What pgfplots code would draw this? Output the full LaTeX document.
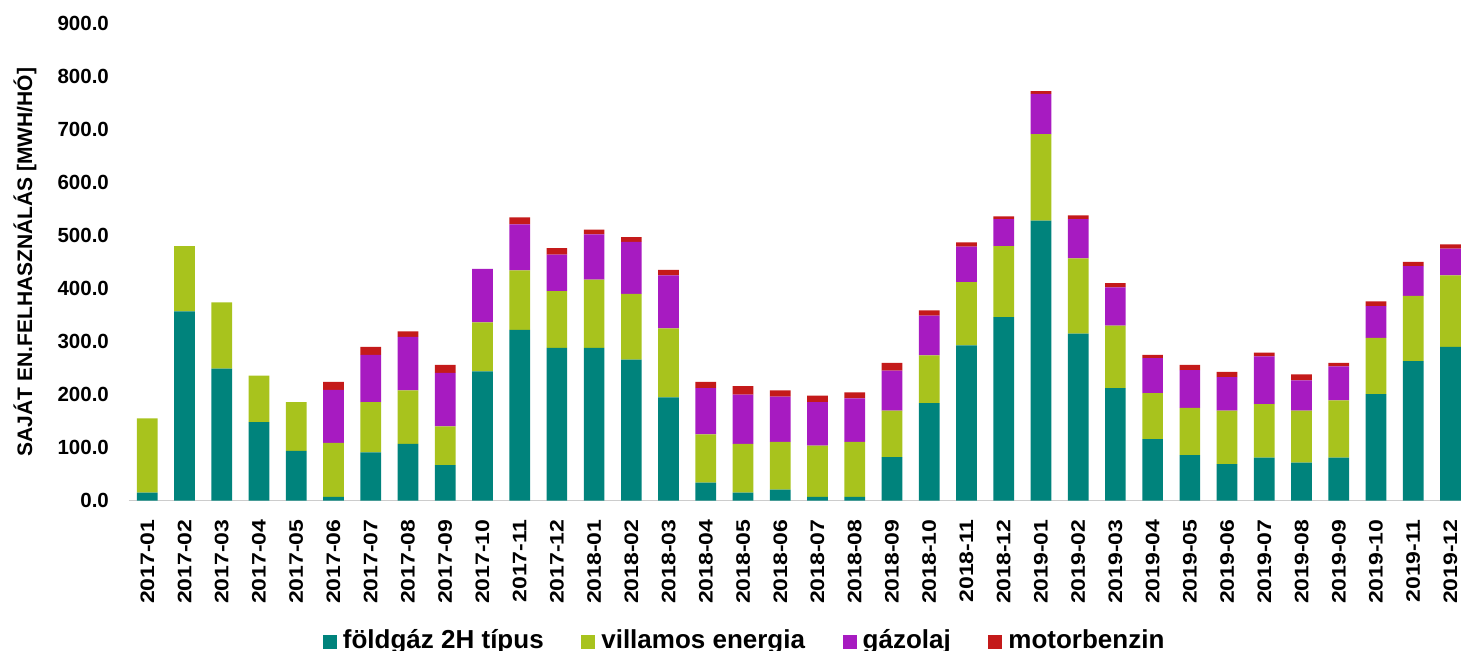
\documentclass[border=0pt]{standalone}
\usepackage{fontspec}
\setmainfont{Liberation Sans}
\newfontfamily\xtfont[FakeStretch=1.18]{Liberation Sans}
\usepackage{pgfplots}
\usepackage{pgfplotstable}
\pgfplotsset{compat=1.18}
\definecolor{cteal}{HTML}{00837C}
\definecolor{cgreen}{HTML}{A8C31D}
\definecolor{cpurple}{HTML}{A71BC1}
\definecolor{cred}{HTML}{C41A1A}
\pgfplotstableread{
x teal green purple red
0 15 140 0 0
1 357 123 0 0
2 249 125 0 0
3 148 88 0 0
4 94 92 0 0
5 7 102 100 15
6 91 95 89 15
7 107 101 101 10
8 67 73 101 15
9 244 92 101 0
10 322 112 87 13
11 288 107 69 12
12 288 129 85 9
13 266 124 98 9
14 195 130 100 10
15 34 91 87 12
16 15 92 93 16
17 21 90 85 12
18 7 97 82 12
19 7 104 82 11
20 82 88 75 15
21 184 90 75 10
22 293 119 67 8
23 346 134 51 5
24 528 163 76 5
25 315 142 74 7
26 212 118 72 8
27 116 87 66 6
28 86 89 71 10
29 69 101 63 10
30 81 101 90 7
31 72 98 57 11
32 81 108 64 7
33 201 106 60 9
34 263 123 56 8
35 290 135 50 8
}\datatable
\tikzset{myleg/.style={/pgfplots/legend image code/.code={\path[##1,draw=none] (0pt,-0.5pt) rectangle (7pt,6.5pt);}}}
\begin{document}
\begin{tikzpicture}
\begin{axis}[
  at={(64.35pt,75.15pt)}, anchor=south west,
  scale only axis,
  width=670.2pt, height=238.7pt,
  ybar stacked, bar width=10.35pt,
  xmin=-0.5, xmax=35.5, ymin=0, ymax=900,
  axis lines*=left,
  x axis line style={draw=black!20, line width=0.8pt},
  y axis line style={draw=none},
  xtick={0,...,35},
  xticklabels={2017-01,2017-02,2017-03,2017-04,2017-05,2017-06,2017-07,2017-08,2017-09,2017-10,2017-11,2017-12,2018-01,2018-02,2018-03,2018-04,2018-05,2018-06,2018-07,2018-08,2018-09,2018-10,2018-11,2018-12,2019-01,2019-02,2019-03,2019-04,2019-05,2019-06,2019-07,2019-08,2019-09,2019-10,2019-11,2019-12},
  x tick style={draw=none},
  extra x ticks={-0.5,0.5,...,35.5},
  extra x tick labels={},
  extra x tick style={tick align=outside, major tick length=3pt, tick style={draw=black!20, line width=0.8pt}},
  xticklabel style={rotate=90, anchor=east, inner sep=0pt, font=\xtfont\bfseries\fontsize{9.75}{11}\selectfont},
  xticklabel shift=9.15pt,
  ytick={0,100,...,900},
  y tick style={draw=none},
  yticklabel style={anchor=east, inner sep=0pt, xshift=-9.7pt, font=\bfseries\fontsize{10.25}{12}\selectfont,
    /pgf/number format/.cd, fixed, fixed zerofill, precision=1, assume math mode=true},
  scaled y ticks=false,
  ylabel={SAJÁT EN.FELHASZNÁLÁS [MWH/HÓ]},
  ylabel style={at={(axis description cs:-0.07737,0.5)}, anchor=center, font=\bfseries\fontsize{10.5}{12}\selectfont},
  legend columns=4,
  legend style={at={(axis description cs:0.4588,-0.2918)}, anchor=center, draw=none, fill=none, inner sep=0pt,
    font=\bfseries\fontsize{13}{15}\selectfont,
    nodes={inner sep=0pt, anchor=base west},
    /tikz/every odd column/.style={column sep=3pt},
    /tikz/every even column/.style={column sep=18.8pt}},
]
\addplot[fill=cteal, draw=none, myleg] table[x=x, y=teal] {\datatable};
\addplot[fill=cgreen, draw=none, myleg] table[x=x, y=green] {\datatable};
\addplot[fill=cpurple, draw=none, myleg] table[x=x, y=purple] {\datatable};
\addplot[fill=cred, draw=none, myleg] table[x=x, y=red] {\datatable};
\legend{földgáz 2H típus, villamos energia, gázolaj, motorbenzin}
\end{axis}
\pgfresetboundingbox
\useasboundingbox (0,0) rectangle (730.5pt,325.5pt);
\end{tikzpicture}
\end{document}
